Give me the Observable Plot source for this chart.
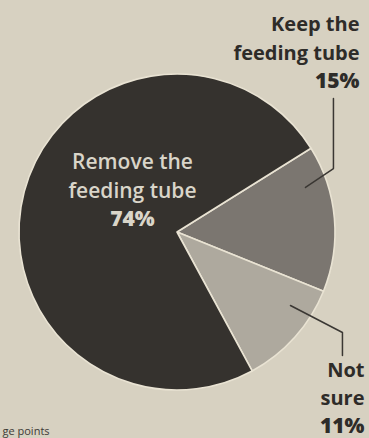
<!DOCTYPE html>
<html>
<head>
<meta charset="utf-8">
<script src="https://cdn.jsdelivr.net/npm/d3@7"></script>
<script src="https://cdn.jsdelivr.net/npm/@observablehq/plot@0.6"></script>
<style>
  html, body { margin: 0; padding: 0; background: #d7d1c1; }
  #chart { width: 369px; height: 438px; overflow: hidden; }
</style>
</head>
<body>
<div id="chart"></div>
<script>
// Data
const categories = ["Keep the feeding tube", "Not sure", "Remove the feeding tube"];
const values = [15, 11, 74];
const labelLines = [["Keep the", "feeding tube"], ["Not", "sure"], ["Remove the", "feeding tube"]];
const pctLabels = ["15%", "11%", "74%"];
const fills = ["#7b7670", "#aea99e", "#35322e"];
const caption = "ge points";

const slices = categories.map((c, i) => ({category: c, value: values[i], fill: fills[i]}));
const pie = d3.pie().value(d => d.value).sort(null)
  .startAngle(58 * Math.PI / 180).endAngle(58 * Math.PI / 180 + 2 * Math.PI);
const arcs = pie(slices);

function pieMark(index, scales) {
  const cx = scales.x(0), cy = scales.y(0), r = scales.x(1) - scales.x(0);
  const arc = d3.arc().innerRadius(0).outerRadius(r);
  const g = d3.create("svg:g").attr("transform", `translate(${cx},${cy})`);
  g.selectAll("path").data(arcs).join("path")
    .attr("d", arc)
    .attr("fill", d => d.data.fill)
    .attr("stroke", "#e9e3d3")
    .attr("stroke-width", 1.6)
    .attr("stroke-linejoin", "round");
  return g.node();
}

const font = "'Open Sans', 'Noto Sans', sans-serif";
const ink = "#2e2c29";
const light = "#d9d5c9";

// connector paths (unit coordinates of the pie, radius = 1)
const keepLine = [{x: 0.810, y: 0.285}, {x: 0.987, y: 0.405}, {x: 0.987, y: 0.848}];
const notLine = [{x: 0.715, y: -0.462}, {x: 1.044, y: -0.633}, {x: 1.044, y: -0.778}];

const mk = [];
mk.push(pieMark);
mk.push(Plot.line(keepLine, {x: "x", y: "y", stroke: "#3a3733", strokeWidth: 1.5}));
mk.push(Plot.line(notLine, {x: "x", y: "y", stroke: "#3a3733", strokeWidth: 1.5}));
// Keep the feeding tube (top right)
labelLines[0].forEach((t, i) => mk.push(Plot.text([t], {frameAnchor: "top-right", text: d => d, textAnchor: "end",
  lineAnchor: "bottom", dx: 24, dy: -44 + i * 29, fontSize: 20, fontWeight: 700, fill: ink})));
mk.push(Plot.text([pctLabels[0]], {frameAnchor: "top-right", text: d => d, textAnchor: "end",
  lineAnchor: "bottom", dx: 24, dy: 13, fontSize: 21, fontWeight: 800, fill: ink}));
// Not sure (bottom right)
labelLines[1].forEach((t, i) => mk.push(Plot.text([t], {frameAnchor: "bottom-right", text: d => d, textAnchor: "end",
  lineAnchor: "bottom", dx: 29, dy: -14 + i * 28, fontSize: 20, fontWeight: 700, fill: ink})));
mk.push(Plot.text([pctLabels[1]], {frameAnchor: "bottom-right", text: d => d, textAnchor: "end",
  lineAnchor: "bottom", dx: 29, dy: 42, fontSize: 21, fontWeight: 800, fill: ink}));
// Remove the feeding tube (inside)
labelLines[2].forEach((t, i) => mk.push(Plot.text([t], {frameAnchor: "top-left", text: d => d, textAnchor: "middle",
  lineAnchor: "bottom", dx: 113, dy: 94 + i * 29, fontSize: 21, fontWeight: 600, fill: light})));
mk.push(Plot.text([pctLabels[2]], {frameAnchor: "top-left", text: d => d, textAnchor: "middle",
  lineAnchor: "bottom", dx: 113, dy: 151, fontSize: 21, fontWeight: 800, fill: light}));
// cut-off caption
mk.push(Plot.text([caption], {frameAnchor: "bottom-left", text: d => d, textAnchor: "start",
  lineAnchor: "bottom", dx: -17, dy: 44, fontSize: 11, fill: "#3d3a36"}));

const chart = Plot.plot({
  width: 369,
  height: 438,
  marginLeft: 19,
  marginRight: 34,
  marginTop: 74,
  marginBottom: 48,
  x: {domain: [-1, 1], axis: null},
  y: {domain: [-1, 1], axis: null},
  style: {background: "#d7d1c1", fontFamily: font, overflow: "visible"},
  marks: mk
});
document.getElementById("chart").appendChild(chart);
</script>
</body>
</html>
